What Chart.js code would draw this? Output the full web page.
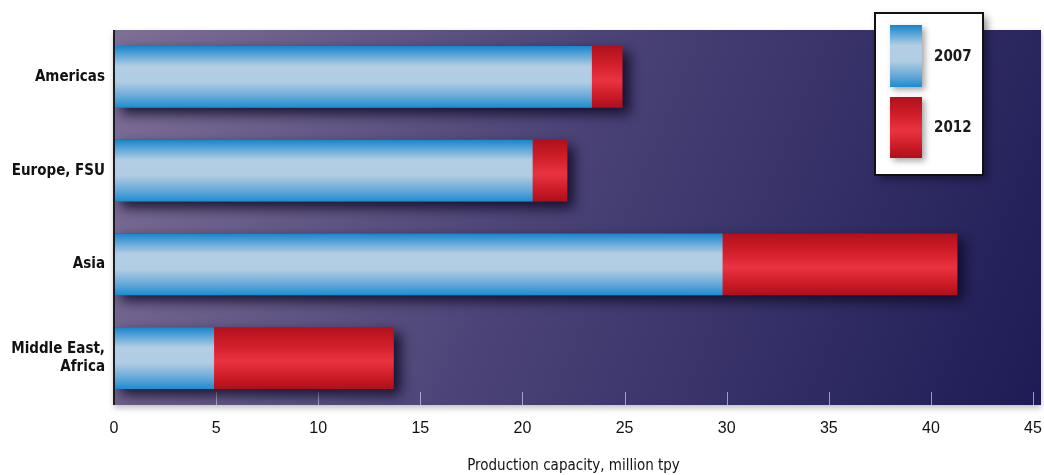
<!DOCTYPE html>
<html>
<head>
<meta charset="utf-8">
<script src="https://cdn.jsdelivr.net/npm/chart.js@4"></script>
<style>
  html, body { margin: 0; padding: 0; background: #fff; }
  #wrap { width: 1044px; height: 475px; }
</style>
</head>
<body>
<div id="wrap"><canvas id="capacity-chart" width="1044" height="475"></canvas></div>
<script>
// data
const regions = ['Americas', 'Europe, FSU', 'Asia', ['Middle East,', 'Africa']];
const capacity2007 = [23.4, 20.5, 29.8, 4.9];
const capacity2012 = [24.9, 22.2, 41.3, 13.7];
const xMin = 0;
const xMax = 45;
const xStep = 5;
const seriesLabels = ['2007', '2012'];

const BAR_PCT = 0.66;
const narrow = "'Liberation Sans Narrow', 'DejaVu Sans Condensed', 'Arial Narrow', sans-serif";
const plain = "'Liberation Sans', Arial, sans-serif";

const blueStops = [[0, '#1785c8'], [0.12, '#4f9fd6'], [0.33, '#b3cee3'], [0.58, '#b1cde3'], [0.82, '#66a8d8'], [1, '#1b8dd0']];
const redStops = [[0, '#b0101b'], [0.3, '#d11f2b'], [0.55, '#ea3341'], [0.78, '#cf1e2a'], [1, '#ad0f1a']];

function makeGradient(c, top, bottom, stops) {
    const g = c.createLinearGradient(0, top, 0, bottom);
    stops.forEach(s => g.addColorStop(s[0], s[1]));
    return g;
}

// vertical shading for each bar, worked out from the category scale
function barFill(stops) {
    return function (context) {
        const chart = context.chart;
        const y = chart.scales.y;
        if (context.type !== 'data' || !y) return stops[2][1];
        const band = (y.bottom - y.top) / regions.length * BAR_PCT;
        const c = y.getPixelForValue(context.dataIndex);
        if (!Number.isFinite(band) || !Number.isFinite(c)) return stops[2][1];
        return makeGradient(chart.ctx, c - band / 2, c + band / 2, stops);
    }
}

const backgroundPlugin = {
    id: 'panel',
    beforeDraw(chart) {
        const { ctx, chartArea } = chart;
        const { left, top, right, bottom } = chartArea;
        ctx.save();
        ctx.fillStyle = '#fff';
        ctx.fillRect(0, 0, chart.width, chart.height);
        const g = ctx.createLinearGradient(left, top, right + 8, bottom);
        g.addColorStop(0, '#7e6f96');
        g.addColorStop(0.45, '#4c4478');
        g.addColorStop(1, '#1d1b55');
        ctx.shadowColor = 'rgba(0,0,0,0.25)';
        ctx.shadowBlur = 6;
        ctx.shadowOffsetY = 3;
        ctx.fillStyle = g;
        ctx.fillRect(left, top, right + 8 - left, bottom - top);
        ctx.restore();

        // small tick marks along the bottom, inside the panel
        const x = chart.scales.x;
        ctx.save();
        ctx.strokeStyle = 'rgba(205,205,230,0.7)';
        ctx.lineWidth = 1;
        x.ticks.forEach(t => {
            if (t.value === 0) return;
            const px = Math.round(x.getPixelForValue(t.value)) + 0.5;
            ctx.beginPath();
            ctx.moveTo(px, bottom - 13);
            ctx.lineTo(px, bottom);
            ctx.stroke();
        });
        ctx.restore();
    },
    beforeDatasetDraw(chart, args) {
        const ctx = chart.ctx;
        ctx.save();
        if (args.index === 1) {
            ctx.shadowColor = 'rgba(12,8,35,0.85)';
            ctx.shadowBlur = 12;
            ctx.shadowOffsetX = 7;
            ctx.shadowOffsetY = 6;
        }
    },
    afterDatasetDraw(chart) {
        chart.ctx.restore();
    },
    afterDatasetsDraw(chart) {
        // dark left axis line
        const { ctx, chartArea } = chart;
        ctx.save();
        ctx.strokeStyle = '#1c1c24';
        ctx.lineWidth = 2;
        ctx.beginPath();
        ctx.moveTo(chartArea.left, chartArea.top);
        ctx.lineTo(chartArea.left, chartArea.bottom);
        ctx.stroke();
        ctx.restore();
    }
};

const legendPlugin = {
    id: 'boxLegend',
    afterDraw(chart) {
        const ctx = chart.ctx;
        const bx = 875, by = 13, bw = 108, bh = 162;
        ctx.save();
        ctx.shadowColor = 'rgba(0,0,0,0.45)';
        ctx.shadowBlur = 8;
        ctx.shadowOffsetX = 4;
        ctx.shadowOffsetY = 4;
        ctx.fillStyle = '#fff';
        ctx.fillRect(bx, by, bw, bh);
        ctx.restore();
        ctx.save();
        ctx.strokeStyle = '#111';
        ctx.lineWidth = 2;
        ctx.strokeRect(bx, by, bw, bh);

        const swatches = [
            { top: 25, bottom: 87, stops: blueStops },
            { top: 97, bottom: 158, stops: redStops }
        ];
        swatches.forEach((s, i) => {
            ctx.save();
            ctx.shadowColor = 'rgba(0,0,0,0.35)';
            ctx.shadowBlur = 6;
            ctx.shadowOffsetX = 3;
            ctx.shadowOffsetY = 3;
            ctx.fillStyle = makeGradient(ctx, s.top, s.bottom, s.stops);
            ctx.fillRect(890, s.top, 32, s.bottom - s.top);
            ctx.restore();
            ctx.fillStyle = '#1a1a1a';
            ctx.font = 'bold 15px ' + narrow;
            ctx.textBaseline = 'middle';
            ctx.textAlign = 'left';
            ctx.fillText(seriesLabels[i], 934, (s.top + s.bottom) / 2 + 1);
        });
        ctx.restore();
    }
};

new Chart(document.querySelector('#capacity-chart').getContext('2d'), {
    type: 'bar',
    data: {
        labels: regions,
        datasets: [
            {
                label: seriesLabels[0],
                data: capacity2007,
                backgroundColor: barFill(blueStops),
                grouped: false,
                borderWidth: 0
            },
            {
                label: seriesLabels[1],
                data: capacity2012,
                backgroundColor: barFill(redStops),
                grouped: false,
                borderWidth: 0
            }
        ]
    },
    options: {
        indexAxis: 'y',
        responsive: false,
        animation: false,
        events: [],
        barPercentage: BAR_PCT,
        categoryPercentage: 1,
        layout: { padding: { top: 30, right: 0, bottom: 0, left: 0 } },
        plugins: {
            legend: { display: false },
            tooltip: { enabled: false }
        },
        scales: {
            x: {
                min: xMin,
                max: xMax,
                ticks: {
                    stepSize: xStep,
                    padding: 14,
                    color: '#111',
                    font: { family: plain, size: 16 }
                },
                grid: { display: false, drawTicks: false },
                border: { display: false },
                title: {
                    display: true,
                    text: 'Production capacity, million tpy',
                    color: '#111',
                    font: { family: narrow, size: 15 },
                    padding: { top: 4, bottom: 0 }
                },
                afterFit(scale) {
                    scale.height = 70;
                    scale.paddingRight = 11;
                    scale.paddingLeft = 0;
                }
            },
            y: {
                ticks: {
                    padding: 9,
                    color: '#111',
                    font: { family: narrow, size: 15, weight: 'bold', lineHeight: 1.25 }
                },
                grid: { display: false, drawTicks: false },
                border: { display: false },
                afterFit(scale) { scale.width = 114; }
            }
        }
    },
    plugins: [backgroundPlugin, legendPlugin]
});
</script>
</body>
</html>
